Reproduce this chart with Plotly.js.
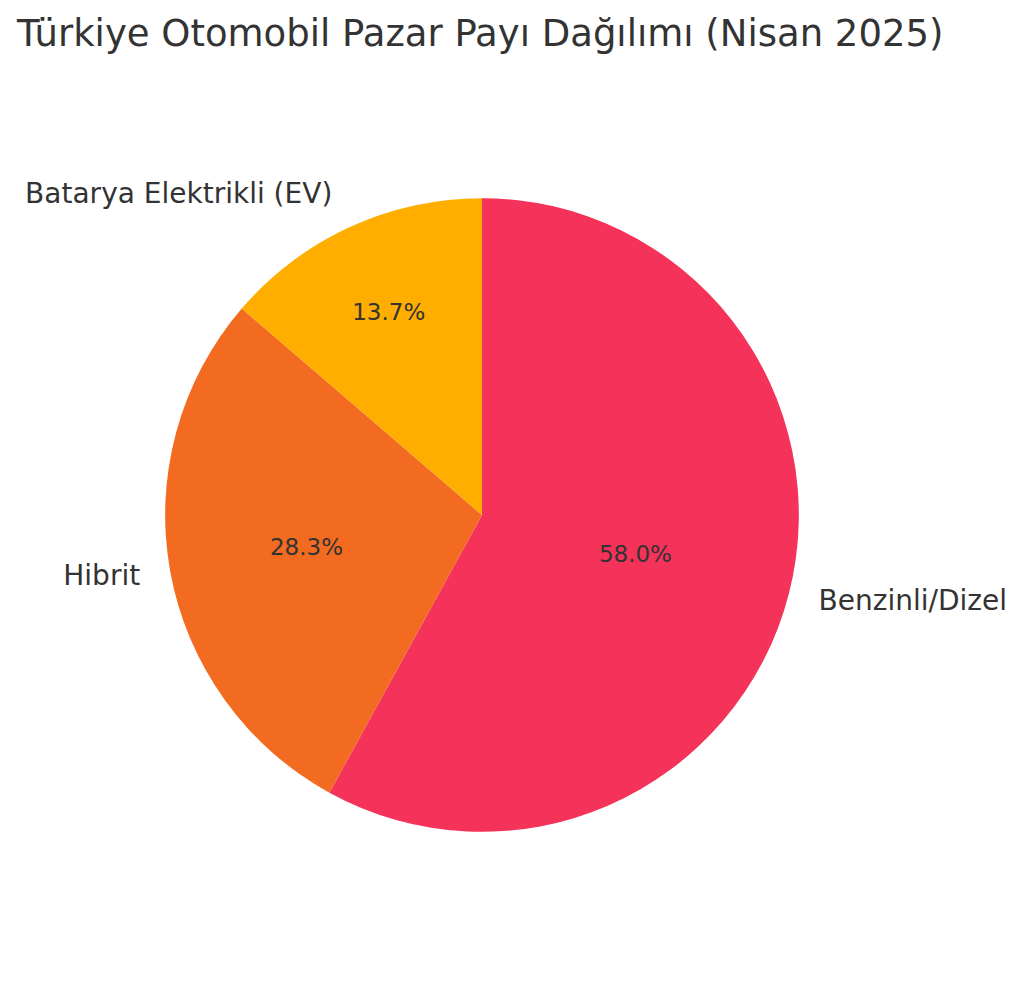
<!DOCTYPE html>
<html>
<head>
<meta charset="utf-8">
<script src="https://cdn.plot.ly/plotly-3.0.1.min.js"></script>
<style>body{margin:0;background:#fff}</style>
</head>
<body>
<div id="chart" style="width:1024px;height:986px"></div>
<script>
// pazar payı verisi (Nisan 2025), saat yönünde tepeden başlayarak
const labels = ["Benzinli/Dizel", "Hibrit", "Batarya Elektrikli (EV)"];
const shares = [58.0, 28.3, 13.7];
const colors = ["#F53259", "#F26B21", "#FFAE00"];

const font = "DejaVu Sans, Verdana, sans-serif";
const clear = ["rgba(0,0,0,0)", "rgba(0,0,0,0)", "rgba(0,0,0,0)"];

// invisible, slightly bigger pie: only carries the names, so they sit a bit out from the edge
var labelTrace = {
    type: "pie",
    labels: labels,
    values: shares,
    sort: false,
    direction: "clockwise",
    rotation: 0,
    domain: { x: [0, 1], y: [0, 1] },
    marker: { colors: clear, line: { width: 0 } },
    textinfo: "label",
    textposition: "outside",
    outsidetextfont: { family: font, size: 28, color: "#333333" },
    hoverinfo: "skip",
    showlegend: false
};

// the visible slices with percentages inside
var sliceTrace = {
    type: "pie",
    labels: labels,
    values: shares,
    sort: false,
    direction: "clockwise",
    rotation: 0,
    domain: { x: [0.0327, 0.9673], y: [0.0327, 0.9673] },
    marker: { colors: colors, line: { width: 0 } },
    texttemplate: "%{percent:.1%}",
    textposition: "inside",
    insidetextorientation: "horizontal",
    insidetextfont: { family: font, size: 23, color: "#333333" },
    hoverinfo: "label+percent",
    showlegend: false
};

var layout = {
    width: 1024,
    height: 986,
    title: {
        text: "Türkiye Otomobil Pazar Payı Dağılımı (Nisan 2025)",
        font: { family: font, size: 37, color: "#333333" },
        xref: "container", x: 17 / 1024, xanchor: "left",
        yref: "container", y: 0.966, yanchor: "middle"
    },
    margin: { t: 176, b: 132, l: 143, r: 203 },
    paper_bgcolor: "#ffffff",
    showlegend: false
};

Plotly.newPlot("chart", [labelTrace, sliceTrace], layout, { staticPlot: true });
</script>
</body>
</html>
